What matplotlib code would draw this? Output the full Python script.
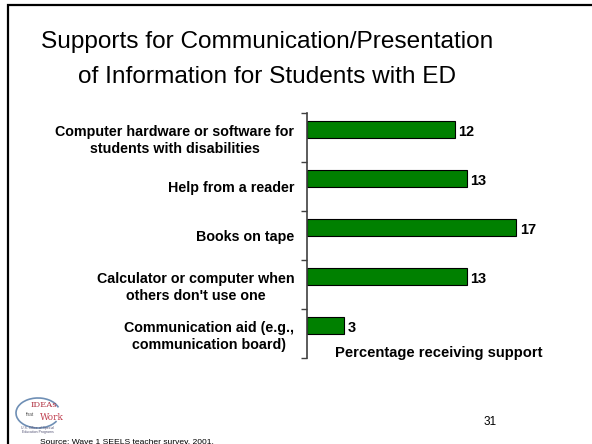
import matplotlib
matplotlib.use('Agg')
import matplotlib.pyplot as plt
from matplotlib.patches import Arc, Rectangle

plt.rcParams['font.family'] = ['Liberation Sans', 'DejaVu Sans']

# Données
supports = ['Computer hardware or software for\nstudents with disabilities',
            'Help from a reader',
            'Books on tape',
            "Calculator or computer when\nothers don't use one",
            'Communication aid (e.g.,\ncommunication board)']
percent = [12, 13, 17, 13, 3]

W, H = 592, 444
fig = plt.figure(figsize=(W / 100, H / 100), dpi=100)

# cadre de la diapositive
fig.add_artist(Rectangle((8 / W, -0.1), 1.2, 1 - 5 / H + 0.1, transform=fig.transFigure,
                         fill=False, edgecolor='black', linewidth=1.6))

fig.text(267 / W, 1 - 42 / H, 'Supports for Communication/Presentation',
         ha='center', va='center', fontsize=17.6)
fig.text(267 / W, 1 - 77 / H, 'of Information for Students with ED',
         ha='center', va='center', fontsize=17.6)

ax = fig.add_axes([307 / W, 1 - 358 / H, 246 / W, 245 / H])
pos = list(range(len(supports)))
bar_pos = [p - 0.16 for p in pos]
ax.barh(bar_pos, percent, height=0.35, color='#008000', edgecolor='black', linewidth=0.8)
for y, v in zip(bar_pos, percent):
    ax.text(v + 0.3, y + 0.05, str(v), ha='left', va='center', fontsize=10.5, fontweight='bold')

ax.set_xlim(0, 20)
ax.set_ylim(len(supports) - 0.5, -0.5)
ax.set_yticks(pos)
ax.set_yticklabels(supports, fontsize=10.3, fontweight='bold')
for t in ax.get_yticklabels():
    t.set_multialignment('center')
    t.set_linespacing(1.3)
ax.set_yticks([p - 0.5 for p in pos] + [len(supports) - 0.5], minor=True)
ax.tick_params(axis='y', which='major', length=0, pad=9)
ax.tick_params(axis='y', which='minor', length=4, color='#404040', width=1)
ax.set_xticks([])
for s in ['top', 'right', 'bottom']:
    ax.spines[s].set_visible(False)
ax.spines['left'].set_color('#404040')
ax.spines['left'].set_linewidth(1.2)

fig.text(439 / W, 1 - 353 / H, 'Percentage receiving support',
         ha='center', va='center', fontsize=10.6, fontweight='bold')

# logo
fig.add_artist(Arc((38 / W, 1 - 413 / H), 44 / W, 30 / H, theta1=20, theta2=330,
                   transform=fig.transFigure, color='#6f8fb5', linewidth=1.2))
fig.text(44 / W, 1 - 405 / H, 'IDEAs', ha='center', va='center', fontsize=6,
         color='#b03040', family='DejaVu Serif')
fig.text(30 / W, 1 - 414 / H, 'that', ha='center', va='center', fontsize=3.5, color='#555555')
fig.text(52 / W, 1 - 417 / H, 'Work', ha='center', va='center', fontsize=6.5,
         color='#c04050', family='DejaVu Serif')
fig.text(38 / W, 1 - 430 / H, 'U.S. Office of Special\nEducation Programs', ha='center',
         va='center', fontsize=2.5, color='#555577', linespacing=1.1)

fig.text(490 / W, 1 - 422 / H, '31', ha='center', va='center', fontsize=8.5)
fig.text(40 / W, 1 - 442 / H, 'Source: Wave 1 SEELS teacher survey, 2001.',
         ha='left', va='center', fontsize=6.1)

fig.savefig('out.png', dpi=100)
